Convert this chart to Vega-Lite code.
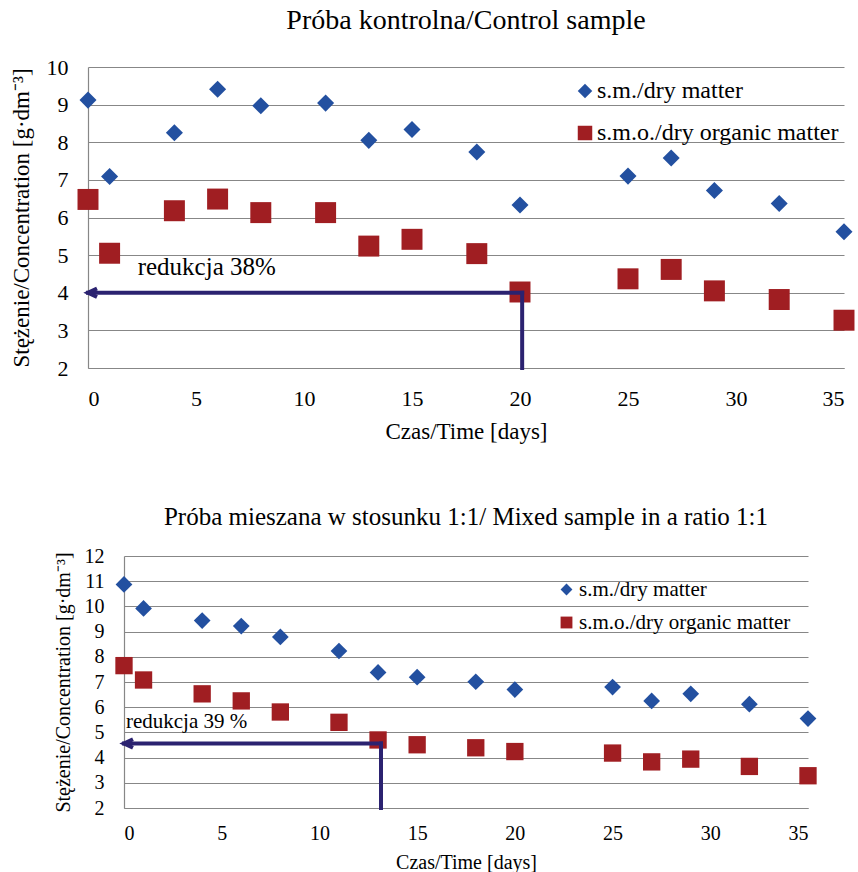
{
  "$schema": "https://vega.github.io/schema/vega-lite/v6.json",
  "padding": {"left": 9, "top": 7, "right": 2, "bottom": 0},
  "background": "white",
  "bounds": "flush",
  "center": true,
  "spacing": 188,
  "config": {
    "view": {"stroke": null},
    "font": "Liberation Serif",
    "axis": {
      "labelFont": "Liberation Serif", "titleFont": "Liberation Serif",
      "labelColor": "#000", "titleColor": "#000", "titleFontWeight": "normal",
      "ticks": false, "domainColor": "#878787", "gridColor": "#878787",
      "gridOpacity": 1, "domainWidth": 1.2, "gridWidth": 1.2, "labelOverlap": false
    },
    "legend": {"labelFont": "Liberation Serif", "labelColor": "#000", "labelLimit": 500},
    "title": {"font": "Liberation Serif", "fontWeight": "normal", "color": "#000"}
  },
  "resolve": {
    "scale": {"color": "independent", "shape": "independent"},
    "legend": {"color": "independent", "shape": "independent"}
  },
  "datasets": {
    "control": [
      {"day": 0, "series": "s.m./dry matter", "value": 9.12},
      {"day": 1, "series": "s.m./dry matter", "value": 7.09},
      {"day": 4, "series": "s.m./dry matter", "value": 8.25},
      {"day": 6, "series": "s.m./dry matter", "value": 9.41},
      {"day": 8, "series": "s.m./dry matter", "value": 8.97},
      {"day": 11, "series": "s.m./dry matter", "value": 9.04},
      {"day": 13, "series": "s.m./dry matter", "value": 8.05},
      {"day": 15, "series": "s.m./dry matter", "value": 8.34},
      {"day": 18, "series": "s.m./dry matter", "value": 7.74},
      {"day": 20, "series": "s.m./dry matter", "value": 6.33},
      {"day": 25, "series": "s.m./dry matter", "value": 7.1},
      {"day": 27, "series": "s.m./dry matter", "value": 7.58},
      {"day": 29, "series": "s.m./dry matter", "value": 6.72},
      {"day": 32, "series": "s.m./dry matter", "value": 6.37},
      {"day": 35, "series": "s.m./dry matter", "value": 5.62},
      {"day": 0, "series": "s.m.o./dry organic matter", "value": 6.48},
      {"day": 1, "series": "s.m.o./dry organic matter", "value": 5.05},
      {"day": 4, "series": "s.m.o./dry organic matter", "value": 6.18},
      {"day": 6, "series": "s.m.o./dry organic matter", "value": 6.49},
      {"day": 8, "series": "s.m.o./dry organic matter", "value": 6.13},
      {"day": 11, "series": "s.m.o./dry organic matter", "value": 6.13},
      {"day": 13, "series": "s.m.o./dry organic matter", "value": 5.24},
      {"day": 15, "series": "s.m.o./dry organic matter", "value": 5.42},
      {"day": 18, "series": "s.m.o./dry organic matter", "value": 5.04},
      {"day": 20, "series": "s.m.o./dry organic matter", "value": 4.02},
      {"day": 25, "series": "s.m.o./dry organic matter", "value": 4.37},
      {"day": 27, "series": "s.m.o./dry organic matter", "value": 4.62},
      {"day": 29, "series": "s.m.o./dry organic matter", "value": 4.05},
      {"day": 32, "series": "s.m.o./dry organic matter", "value": 3.82},
      {"day": 35, "series": "s.m.o./dry organic matter", "value": 3.27}
    ],
    "mixed": [
      {"day": 0, "series": "s.m./dry matter", "value": 10.87},
      {"day": 1, "series": "s.m./dry matter", "value": 9.92},
      {"day": 4, "series": "s.m./dry matter", "value": 9.44},
      {"day": 6, "series": "s.m./dry matter", "value": 9.22},
      {"day": 8, "series": "s.m./dry matter", "value": 8.79},
      {"day": 11, "series": "s.m./dry matter", "value": 8.23},
      {"day": 13, "series": "s.m./dry matter", "value": 7.38},
      {"day": 15, "series": "s.m./dry matter", "value": 7.19},
      {"day": 18, "series": "s.m./dry matter", "value": 7.01},
      {"day": 20, "series": "s.m./dry matter", "value": 6.7},
      {"day": 25, "series": "s.m./dry matter", "value": 6.8},
      {"day": 27, "series": "s.m./dry matter", "value": 6.25},
      {"day": 29, "series": "s.m./dry matter", "value": 6.53},
      {"day": 32, "series": "s.m./dry matter", "value": 6.12},
      {"day": 35, "series": "s.m./dry matter", "value": 5.55},
      {"day": 0, "series": "s.m.o./dry organic matter", "value": 7.65},
      {"day": 1, "series": "s.m.o./dry organic matter", "value": 7.08},
      {"day": 4, "series": "s.m.o./dry organic matter", "value": 6.53},
      {"day": 6, "series": "s.m.o./dry organic matter", "value": 6.25},
      {"day": 8, "series": "s.m.o./dry organic matter", "value": 5.81},
      {"day": 11, "series": "s.m.o./dry organic matter", "value": 5.4},
      {"day": 13, "series": "s.m.o./dry organic matter", "value": 4.7},
      {"day": 15, "series": "s.m.o./dry organic matter", "value": 4.51},
      {"day": 18, "series": "s.m.o./dry organic matter", "value": 4.39},
      {"day": 20, "series": "s.m.o./dry organic matter", "value": 4.24},
      {"day": 25, "series": "s.m.o./dry organic matter", "value": 4.18},
      {"day": 27, "series": "s.m.o./dry organic matter", "value": 3.83},
      {"day": 29, "series": "s.m.o./dry organic matter", "value": 3.94},
      {"day": 32, "series": "s.m.o./dry organic matter", "value": 3.65},
      {"day": 35, "series": "s.m.o./dry organic matter", "value": 3.28}
    ],
    "controlArrow": [
      {"day": 0, "day2": 20.1, "value": 4, "value2": 4},
      {"day": 20.1, "day2": 20.1, "value": 4, "value2": 2}
    ],
    "controlTip": [{"day": 0, "value": 4}],
    "controlNote": [{"day": 2.3, "value": 4.68, "label": "redukcja 38%"}],
    "mixedArrow": [
      {"day": 0, "day2": 13.15, "value": 4.56, "value2": 4.56},
      {"day": 13.15, "day2": 13.15, "value": 4.56, "value2": 2}
    ],
    "mixedTip": [{"day": 0, "value": 4.56}],
    "mixedNote": [{"day": 0.1, "value": 5.43, "label": "redukcja 39 %"}]
  },
  "vconcat": [
    {
      "width": 756,
      "height": 301,
      "title": {"text": "Próba kontrolna/Control sample", "fontSize": 28, "baseline": "alphabetic", "offset": -1},
      "encoding": {
        "x": {"field": "day", "type": "quantitative", "scale": {"domain": [0, 35], "nice": false},
          "axis": {"values": [0, 5, 10, 15, 20, 25, 30, 35], "grid": false, "title": "Czas/Time [days]",
            "labelFontSize": 22, "titleFontSize": 23, "labelPadding": 20, "titlePadding": 11}},
        "y": {"field": "value", "type": "quantitative", "scale": {"domain": [2, 10], "nice": false},
          "axis": {"values": [2, 3, 4, 5, 6, 7, 8, 9, 10], "grid": true, "title": "Stężenie/Concentration [g·dm⁻³]",
            "labelFontSize": 22, "titleFontSize": 23, "labelPadding": 20, "titlePadding": 13}}
      },
      "layer": [
        {
          "data": {"name": "control"},
          "mark": {"type": "point", "filled": true, "opacity": 1},
          "encoding": {
            "color": {"field": "series", "type": "nominal",
              "scale": {"domain": ["s.m./dry matter", "s.m.o./dry organic matter"], "range": ["#2350A0", "#A01E22"]},
              "legend": {"title": null, "orient": "none", "legendX": 485, "legendY": 12, "labelFontSize": 24,
                "symbolSize": 210, "rowPadding": 18, "labelOffset": 0}},
            "shape": {"field": "series", "type": "nominal",
              "scale": {"domain": ["s.m./dry matter", "s.m.o./dry organic matter"], "range": ["diamond", "square"]},
              "legend": {"title": null, "orient": "none", "legendX": 485, "legendY": 12, "labelFontSize": 24,
                "symbolSize": 210, "rowPadding": 18, "labelOffset": 0}},
            "size": {"condition": {"test": "datum.series === 's.m./dry matter'", "value": 290}, "value": 440}
          }
        },
        {
          "data": {"name": "controlArrow"},
          "mark": {"type": "rule", "color": "#2B2270", "strokeWidth": 4, "strokeCap": "square"},
          "encoding": {
            "x2": {"field": "day2"},
            "y2": {"field": "value2"}
          }
        },
        {
          "data": {"name": "controlTip"},
          "mark": {"type": "point", "shape": "M1.8,-0.85L0,0L1.8,0.85", "filled": false, "stroke": "#2B2270", "strokeWidth": 4, "size": 100, "opacity": 1}
        },
        {
          "data": {"name": "controlNote"},
          "mark": {"type": "text", "align": "left", "baseline": "middle", "fontSize": 25, "font": "Liberation Serif", "color": "#000"},
          "encoding": {
            "text": {"field": "label"}
          }
        }
      ]
    },
    {
      "width": 684,
      "height": 252,
      "title": {"text": "Próba mieszana w stosunku 1:1/ Mixed sample in a ratio 1:1", "fontSize": 25, "baseline": "alphabetic", "offset": -4},
      "encoding": {
        "x": {"field": "day", "type": "quantitative", "scale": {"domain": [0, 35], "nice": false},
          "axis": {"values": [0, 5, 10, 15, 20, 25, 30, 35], "grid": false, "title": "Czas/Time [days]",
            "labelFontSize": 20, "titleFontSize": 20, "labelPadding": 15, "titlePadding": 9}},
        "y": {"field": "value", "type": "quantitative", "scale": {"domain": [2, 12], "nice": false},
          "axis": {"values": [2, 3, 4, 5, 6, 7, 8, 9, 10, 11, 12], "grid": true, "title": "Stężenie/Concentration [g·dm⁻³]",
            "labelFontSize": 20, "titleFontSize": 20, "labelPadding": 20, "titlePadding": 11}}
      },
      "layer": [
        {
          "data": {"name": "mixed"},
          "mark": {"type": "point", "filled": true, "opacity": 1},
          "encoding": {
            "color": {"field": "series", "type": "nominal",
              "scale": {"domain": ["s.m./dry matter", "s.m.o./dry organic matter"], "range": ["#2350A0", "#A01E22"]},
              "legend": {"title": null, "orient": "none", "legendX": 432, "legendY": 23, "labelFontSize": 21,
                "symbolSize": 140, "rowPadding": 11, "labelOffset": 2}},
            "shape": {"field": "series", "type": "nominal",
              "scale": {"domain": ["s.m./dry matter", "s.m.o./dry organic matter"], "range": ["diamond", "square"]},
              "legend": {"title": null, "orient": "none", "legendX": 432, "legendY": 23, "labelFontSize": 21,
                "symbolSize": 140, "rowPadding": 11, "labelOffset": 2}},
            "size": {"condition": {"test": "datum.series === 's.m./dry matter'", "value": 280}, "value": 300}
          }
        },
        {
          "data": {"name": "mixedArrow"},
          "mark": {"type": "rule", "color": "#2B2270", "strokeWidth": 4, "strokeCap": "square"},
          "encoding": {
            "x2": {"field": "day2"},
            "y2": {"field": "value2"}
          }
        },
        {
          "data": {"name": "mixedTip"},
          "mark": {"type": "point", "shape": "M1.8,-0.85L0,0L1.8,0.85", "filled": false, "stroke": "#2B2270", "strokeWidth": 4, "size": 100, "opacity": 1}
        },
        {
          "data": {"name": "mixedNote"},
          "mark": {"type": "text", "align": "left", "baseline": "middle", "fontSize": 21, "font": "Liberation Serif", "color": "#000"},
          "encoding": {
            "text": {"field": "label"}
          }
        }
      ]
    }
  ]
}
